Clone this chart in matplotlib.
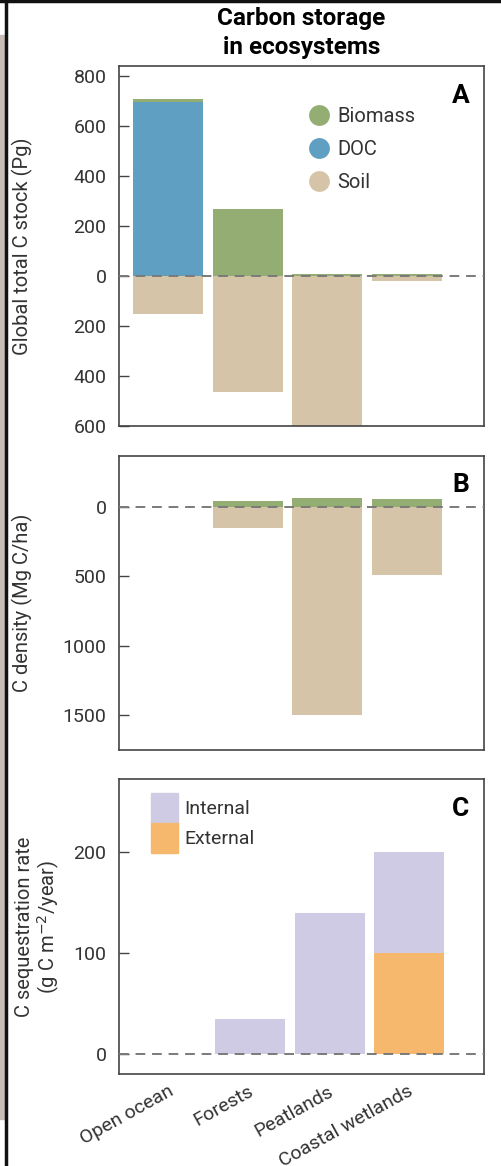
import matplotlib.pyplot as plt
import numpy as np
from matplotlib.lines import Line2D
from matplotlib.patches import Patch, Rectangle

plt.rcParams['font.family'] = ['Roboto', 'DejaVu Sans']

ecosystems = ['Open ocean', 'Forests', 'Peatlands', 'Coastal wetlands']

# A: global total C stock (Pg)
stock_biomass = [15, 270, 8, 10]
stock_doc = [695, 0, 0, 0]
stock_soil = [150, 463, 700, 18]

# B: C density (Mg C/ha)
dens_biomass = [0.5, 43, 67, 60]
dens_doc = [2, 0, 0, 0]
dens_soil = [0, 154, 1500, 490]

# C: sequestration rate (g C m-2/year)
seq_internal = [0, 35, 140, 100]
seq_external = [0, 0, 0, 100]

GREEN = '#93ad72'
BLUE = '#5e9fc2'
TAN = '#d6c4a8'
LAV = '#cfcbe4'
ORANGE = '#f6b86c'
SPINE = '#444444'
TXT = '#333333'

x = np.arange(len(ecosystems))
w = 0.88

fig = plt.figure(figsize=(5.01, 11.66), dpi=100)
axA = fig.add_axes([0.2375, 0.6346, 0.7285, 0.3087])
axB = fig.add_axes([0.2375, 0.3568, 0.7285, 0.2524])
axC = fig.add_axes([0.2375, 0.0789, 0.7285, 0.2530])


def style(ax):
    for s in ax.spines.values():
        s.set_color(SPINE)
        s.set_linewidth(1.2)
    ax.tick_params(axis='y', direction='in', length=7, width=1, color=SPINE,
                   labelsize=14, pad=9, labelcolor=TXT)
    ax.tick_params(axis='x', length=0)
    ax.set_xlim(-0.62, 3.97)
    ax.axhline(0, color='#7a7a7a', lw=1.4, ls=(0, (5, 3.5)), zorder=5)


# panel A
axA.bar(x, stock_doc, w, color=BLUE, zorder=2)
axA.bar(x, stock_biomass, w, bottom=stock_doc, color=GREEN, zorder=2)
axA.bar(x, [-v for v in stock_soil], w, color=TAN, zorder=2)
axA.set_ylim(-600, 840)
axA.set_yticks([-600, -400, -200, 0, 200, 400, 600, 800])
axA.set_yticklabels(['600', '400', '200', '0', '200', '400', '600', '800'])
style(axA)
axA.set_xticks([])
axA.set_ylabel('Global total C stock (Pg)', fontsize=14.5, color=TXT)
axA.yaxis.set_label_coords(-0.235, 0.5)
axA.text(0.96, 0.95, 'A', transform=axA.transAxes, ha='right', va='top',
         fontsize=19, fontweight='bold')
handlesA = [Line2D([], [], marker='o', ls='', ms=15, color=c, mec='none')
            for c in (GREEN, BLUE, TAN)]
axA.legend(handlesA, ['Biomass', 'DOC', 'Soil'], loc='upper left',
           bbox_to_anchor=(0.493, 0.914), frameon=False, fontsize=14.5,
           handlelength=1.0, handletextpad=0.4, labelspacing=0.7, borderpad=0,
           labelcolor=TXT)
axA.set_title('Carbon storage\nin ecosystems', fontsize=17.5, fontweight='bold',
              pad=9, linespacing=1.3)

# panel B
axB.bar(x, dens_doc, w, color=BLUE, zorder=2)
axB.bar(x, dens_biomass, w, bottom=dens_doc, color=GREEN, zorder=2)
axB.bar(x, [-v for v in dens_soil], w, color=TAN, zorder=2)
axB.set_ylim(-1752, 370)
axB.set_yticks([-1500, -1000, -500, 0])
axB.set_yticklabels(['1500', '1000', '500', '0'])
style(axB)
axB.set_xticks([])
axB.set_ylabel('C density (Mg C/ha)', fontsize=14.5, color=TXT)
axB.yaxis.set_label_coords(-0.235, 0.5)
axB.text(0.96, 0.94, 'B', transform=axB.transAxes, ha='right', va='top',
         fontsize=19, fontweight='bold')

# panel C
axC.bar(x + 0.03, seq_external, w, color=ORANGE, zorder=2)
axC.bar(x + 0.03, seq_internal, w, bottom=seq_external, color=LAV, zorder=2)
axC.set_ylim(-19.5, 272)
axC.set_yticks([0, 100, 200])
style(axC)
axC.set_xticks(x)
axC.set_xticklabels(ecosystems, rotation=29, ha='right', rotation_mode='anchor',
                    fontsize=14, color=TXT)
axC.tick_params(axis='x', pad=6)
axC.set_ylabel('C sequestration rate\n(g C m$^{-2}$/year)', fontsize=14.5,
               color=TXT, linespacing=1.1)
axC.yaxis.set_label_coords(-0.155, 0.5)
axC.text(0.96, 0.94, 'C', transform=axC.transAxes, ha='right', va='top',
         fontsize=19, fontweight='bold')
handlesC = [Patch(color=LAV), Patch(color=ORANGE)]
axC.legend(handlesC, ['Internal', 'External'], loc='upper left',
           bbox_to_anchor=(0.05, 1.0), frameon=False, fontsize=14,
           handlelength=1.4, handleheight=2.0, handletextpad=0.3,
           labelspacing=0.0, borderpad=0.2, labelcolor=TXT)

# page edges of the scanned figure
fig.patches.append(Rectangle((0, 0.04), 0.009, 0.93, transform=fig.transFigure,
                             color='#c8bdb6', zorder=0))
fig.add_artist(Line2D([0.011, 0.011], [0, 1], transform=fig.transFigure,
                      color='#111111', lw=2.5))
fig.add_artist(Line2D([0, 1], [0.999, 0.999], transform=fig.transFigure,
                      color='#111111', lw=2.5))

fig.savefig('out.png', dpi=100)
